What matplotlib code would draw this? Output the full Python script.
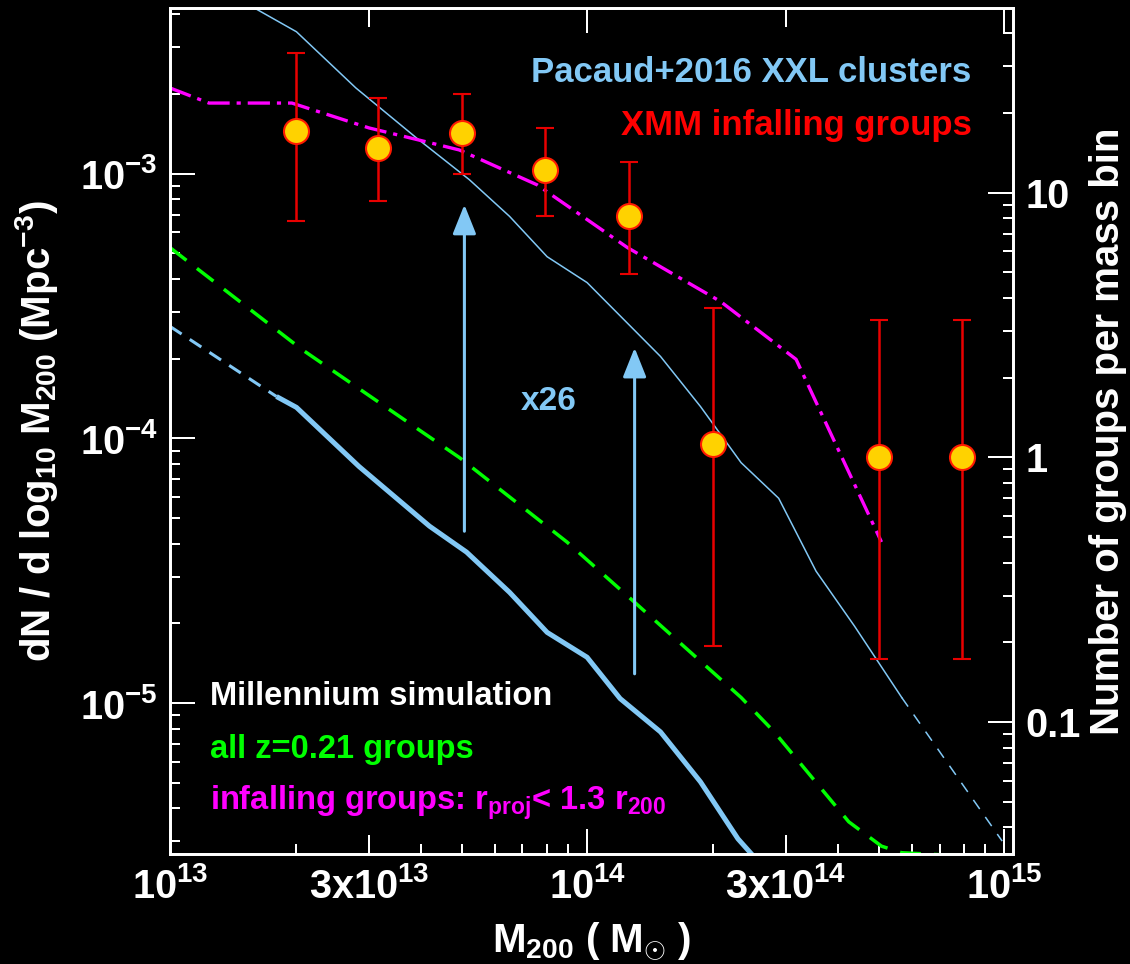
import numpy as np
import matplotlib
matplotlib.use('Agg')
import matplotlib.pyplot as plt
from matplotlib.ticker import FixedLocator, FuncFormatter, LogLocator, LogFormatterMathtext, NullFormatter

plt.rcParams['font.family'] = ['Liberation Sans', 'DejaVu Sans']
plt.rcParams['font.weight'] = 'bold'
plt.rcParams['axes.labelweight'] = 'bold'
plt.rcParams['mathtext.fontset'] = 'custom'
plt.rcParams['mathtext.rm'] = 'Liberation Sans:bold'
plt.rcParams['mathtext.bf'] = 'Liberation Sans:bold'
plt.rcParams['mathtext.it'] = 'Liberation Sans:bold:italic'
plt.rcParams['mathtext.default'] = 'bf'
plt.rcParams['lines.scale_dashes'] = False

# Pacaud+2016 XXL cluster mass function (thin line, dashed tail)
pacaud_m = [1.45e13, 2.01e13, 2.79e13, 3.89e13, 5.22e13, 6.52e13, 8.02e13, 1.0e14,
            1.5e14, 1.87e14, 2.34e14, 2.88e14, 3.54e14, 4.38e14, 5.68e14]
pacaud_n = [4.6e-3, 3.44e-3, 2.11e-3, 1.37e-3, 9.5e-4, 6.9e-4, 4.86e-4, 3.88e-4,
            2.04e-4, 1.32e-4, 8.1e-5, 5.94e-5, 3.15e-5, 1.95e-5, 1.05e-5]
pacaud_tail_m = [5.68e14, 9.89e14]
pacaud_tail_n = [1.05e-5, 3.01e-6]

# Millennium infalling groups (thick line, dashed at low mass)
mill_low_m = [1.0e13, 1.80e13]
mill_low_n = [2.65e-4, 1.44e-4]
mill_m = [1.80e13, 2.01e13, 2.84e13, 4.19e13, 5.14e13, 6.52e13, 8.02e13, 1.0e14,
          1.20e14, 1.50e14, 1.87e14, 2.30e14, 2.75e14]
mill_n = [1.44e-4, 1.31e-4, 7.83e-5, 4.66e-5, 3.72e-5, 2.62e-5, 1.85e-5, 1.49e-5,
          1.04e-5, 7.78e-6, 5.04e-6, 3.07e-6, 2.24e-6]

# Millennium, all z=0.21 groups
all_m = [1.0e13, 2.07e13, 4.94e13, 8.95e13, 1.29e14, 2.34e14, 2.81e14, 4.24e14,
         5.08e14, 5.68e14, 9.89e14]
all_n = [5.26e-4, 2.17e-4, 8.47e-5, 4.06e-5, 2.43e-5, 1.05e-5, 7.78e-6, 3.56e-6,
         2.88e-6, 2.72e-6, 2.6e-6]

# Millennium infalling groups scaled up
inf_m = [1.0e13, 1.24e13, 1.96e13, 3.0e13, 3.96e13, 4.94e13, 7.59e13, 1.25e14,
         2.09e14, 3.17e14, 5.08e14]
inf_n = [2.11e-3, 1.85e-3, 1.85e-3, 1.49e-3, 1.34e-3, 1.23e-3, 9.08e-4, 5.26e-4,
         3.29e-4, 1.99e-4, 4.06e-5]

# XMM infalling groups
xmm_m = np.array([2.0e13, 3.16e13, 5.0e13, 7.94e13, 1.26e14, 2.0e14, 5.01e14, 7.94e14])
xmm_n = np.array([1.45e-3, 1.25e-3, 1.43e-3, 1.035e-3, 6.94e-4, 9.49e-5, 8.48e-5, 8.48e-5])
xmm_hi = np.array([2.86e-3, 1.94e-3, 2.0e-3, 1.49e-3, 1.11e-3, 3.12e-4, 2.79e-4, 2.79e-4])
xmm_lo = np.array([6.65e-4, 7.91e-4, 1.0e-3, 6.94e-4, 4.19e-4, 1.64e-5, 1.47e-5, 1.47e-5])

# shift arrows
arrow_m = [5.08e13, 1.30e14]
arrow_lo = [4.46e-5, 1.29e-5]
arrow_hi = [7.64e-4, 2.20e-4]

# density -> groups per mass bin
groups_per_density = 11790.0
ylim = (2.69e-6, 4.23e-3)

LB = '#82c8f5'

fig = plt.figure(figsize=(11.3, 9.64), dpi=100, facecolor='black')
ax = fig.add_axes([170/1130, 1-854/964, 843/1130, 846/964])
ax.set_facecolor('black')

ax.plot(pacaud_m, pacaud_n, color=LB, lw=1.1)
ax.plot(pacaud_tail_m, pacaud_tail_n, color=LB, lw=1.1, dashes=(8, 7))
ax.plot(mill_low_m, mill_low_n, color=LB, lw=2.2, dashes=(10, 7))
ax.plot(mill_m, mill_n, color=LB, lw=3.6, solid_capstyle='butt')
ax.plot(all_m, all_n, color='#00ff00', lw=2.5, dashes=(15, 9.5))
ax.plot(inf_m, inf_n, color='#ff00ff', lw=2.4, dashes=(16, 5, 3, 5))

ax.errorbar(xmm_m, xmm_n, yerr=[xmm_n - xmm_lo, xmm_hi - xmm_n], fmt='o', ms=18,
            mfc='#ffd200', mec='#ff1a00', mew=1.5, ecolor='#e80000',
            elinewidth=1.8, capsize=6.8, capthick=1.8, zorder=5)

for x, lo, hi in zip(arrow_m, arrow_lo, arrow_hi):
    ax.annotate('', xy=(x, hi), xytext=(x, lo),
                arrowprops=dict(arrowstyle='-|>,head_length=0.9,head_width=0.36',
                                mutation_scale=20, color=LB, lw=2.2,
                                shrinkA=0, shrinkB=0))

ax.text(0.449, 0.525, 'x26', color=LB, fontsize=24, ha='center', va='baseline',
        transform=ax.transAxes)
ax.text(0.951, 0.9125, 'Pacaud+2016 XXL clusters', color=LB, fontsize=25,
        ha='right', va='baseline', transform=ax.transAxes)
ax.text(0.951, 0.850, 'XMM infalling groups', color='#ff0000', fontsize=25,
        ha='right', va='baseline', transform=ax.transAxes)
ax.text(0.047, 0.176, 'Millennium simulation', color='white', fontsize=23.5,
        ha='left', va='baseline', transform=ax.transAxes)
ax.text(0.047, 0.113, 'all z=0.21 groups', color='#00ff00', fontsize=23.5,
        ha='left', va='baseline', transform=ax.transAxes)
ax.text(0.047, 0.052, r'infalling groups: r$_{proj}$< 1.3 r$_{200}$', color='#ff00ff',
        fontsize=23.5, ha='left', va='baseline', transform=ax.transAxes)

ax.set_xscale('log')
ax.set_yscale('log')
ax.set_xlim(1e13, 1.05e15)
ax.set_ylim(*ylim)


def mass_label(v, pos):
    e = int(np.floor(np.log10(v) + 1e-9))
    lead = v / 10**e
    if lead > 1.5:
        return r'3x10$^{%d}$' % e
    return r'10$^{%d}$' % e


ax.xaxis.set_major_locator(FixedLocator([1e13, 3e13, 1e14, 3e14, 1e15]))
ax.xaxis.set_major_formatter(FuncFormatter(mass_label))
ax.xaxis.set_minor_locator(FixedLocator([k * 10**e for e in (13, 14) for k in (2, 4, 5, 6, 7, 8, 9)]))
ax.xaxis.set_minor_formatter(NullFormatter())
ax.yaxis.set_major_locator(LogLocator(base=10, numticks=10))
ax.yaxis.set_major_formatter(LogFormatterMathtext())
ax.yaxis.set_minor_locator(LogLocator(base=10, subs=np.arange(2, 10), numticks=20))
ax.yaxis.set_minor_formatter(NullFormatter())

ax.tick_params(which='both', direction='in', colors='white', width=1.44, labelsize=28.5)
ax.tick_params(which='major', length=18)
ax.tick_params(which='minor', length=7.2)
ax.tick_params(axis='x', top=True, pad=9)
ax.tick_params(axis='y', left=True, right=False, pad=9)

locs = ax.xaxis.get_majorticklocs()
for loc, tick in zip(locs, ax.xaxis.get_major_ticks(len(locs))):
    if abs(loc / 10**np.floor(np.log10(loc)) - 3) < 0.1:
        tick.tick1line.set_markersize(13.7)
        tick.tick2line.set_markersize(13.7)

ax.set_xlabel(r'M$_{200}$ ( M$_{\odot}$ )', color='white', fontsize=29)
ax.xaxis.set_label_coords(0.5, -0.078)
ax.set_ylabel(r'dN / d log$_{10}$ M$_{200}$ (Mpc$^{-3}$)', color='white', fontsize=29)
ax.yaxis.set_label_coords(-0.13, 0.5)

ax2 = ax.twinx()
ax2.set_yscale('log')
ax2.set_ylim(ylim[0] * groups_per_density, ylim[1] * groups_per_density)
ax2.yaxis.set_major_locator(LogLocator(base=10, numticks=10))
ax2.yaxis.set_major_formatter(FuncFormatter(lambda v, p: '%g' % v))
ax2.yaxis.set_minor_locator(LogLocator(base=10, subs=np.arange(2, 10), numticks=20))
ax2.yaxis.set_minor_formatter(NullFormatter())
ax2.tick_params(which='both', direction='in', colors='white', width=1.44, labelsize=28.5, pad=9)
ax2.tick_params(which='major', length=18)
ax2.tick_params(which='minor', length=7.2)
ax2.set_ylabel('Number of groups per mass bin', color='white', fontsize=29)
ax2.yaxis.set_label_coords(1.09, 0.5)

for a in (ax, ax2):
    for s in a.spines.values():
        s.set_color('white')
        s.set_linewidth(2)

fig.savefig('out.png', dpi=100, facecolor='black')
